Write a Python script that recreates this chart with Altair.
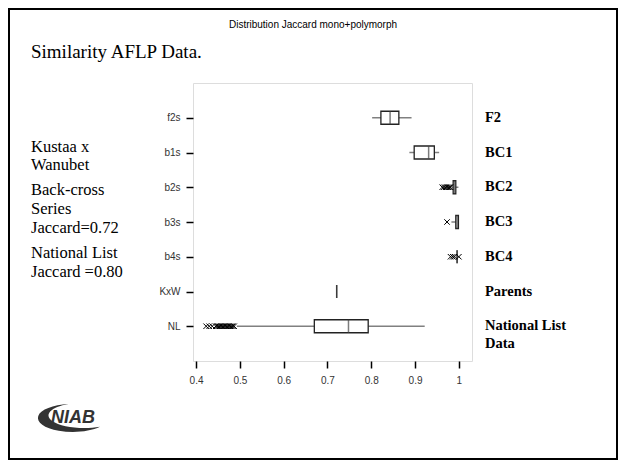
import altair as alt
import pandas as pd

# ---- data ----
categories = ["f2s", "b1s", "b2s", "b3s", "b4s", "KxW", "NL"]
lower_whisker = [0.802, 0.887, 0.984, 0.983, 0.996, 0.721, 0.493]
q1 = [0.822, 0.898, 0.987, 0.993, 0.996, 0.721, 0.670]
median = [0.843, 0.931, 0.990, 0.996, 0.996, 0.721, 0.748]
q3 = [0.863, 0.944, 0.993, 0.999, 0.996, 0.721, 0.793]
upper_whisker = [0.892, 0.955, 0.999, 0.999, 0.996, 0.721, 0.922]

outliers_b2s = [0.962, 0.966, 0.970, 0.973, 0.976, 0.979, 0.981]
outliers_b3s = [0.973]
outliers_b4s = [0.981, 0.986, 0.990, 1.000]
outliers_nl = [0.423, 0.430, 0.437, 0.445, 0.448, 0.451, 0.454, 0.457, 0.460,
               0.463, 0.466, 0.469, 0.472, 0.475, 0.478, 0.481, 0.484, 0.487]

x_ticks = [0.4, 0.5, 0.6, 0.7, 0.8, 0.9, 1.0]

title_text = "Distribution Jaccard mono+polymorph"
heading_text = "Similarity AFLP Data."
left_notes = ["Kustaa x", "Wanubet", "Back-cross", "Series", "Jaccard=0.72",
              "National List", "Jaccard =0.80"]
group_labels = ["F2", "BC1", "BC2", "BC3", "BC4", "Parents", "National List"]
group_label_extra = "Data"
logo_text = "NIAB"

# ---- tables ----
boxes = pd.DataFrame({"cat": categories, "lo": lower_whisker, "q1": q1,
                      "med": median, "q3": q3, "hi": upper_whisker,
                      "grp": group_labels})
out_rows = ([("b2s", v) for v in outliers_b2s] + [("b3s", v) for v in outliers_b3s]
            + [("b4s", v) for v in outliers_b4s] + [("NL", v) for v in outliers_nl])
outs = pd.DataFrame(out_rows, columns=["cat", "val"])

xscale = alt.Scale(domain=[0.393, 1.03], nice=False, zero=False)
yscale = alt.Scale(type="point", domain=categories, padding=1)
Y = alt.Y("cat:N", scale=yscale, sort=categories)

base = alt.Chart(boxes)

whisk = base.mark_rule(color="#808080", strokeWidth=1.5).encode(
    x=alt.X("lo:Q", scale=xscale,
            axis=alt.Axis(values=x_ticks, format=".1~f", title=None, grid=False,
                          domain=False, tickColor="black", tickSize=7, tickWidth=1.5,
                          labelFont="Liberation Sans", labelFontSize=10,
                          labelColor="#333", labelPadding=7)),
    x2="hi:Q",
    y=alt.Y("cat:N", scale=yscale, sort=categories,
            axis=alt.Axis(title=None, grid=False, domain=False, tickColor="black",
                          tickSize=7, tickWidth=1.5, labelFont="Liberation Sans",
                          labelFontSize=10, labelColor="#333", labelPadding=6)),
)

box = base.mark_bar(size=13, orient="horizontal", fill="white", stroke="#222",
                    strokeWidth=1.3).encode(
    x=alt.X("q1:Q", scale=xscale), x2="q3:Q", y=Y)

med = base.mark_tick(size=13, thickness=1.5, color="#444", orient="vertical").encode(
    x=alt.X("med:Q", scale=xscale), y=Y)

xshape = "M-1,-1L1,1M-1,1L1,-1"
pts = alt.Chart(outs).mark_point(shape=xshape, filled=False, size=30, color="black",
                                 strokeWidth=1, opacity=1).encode(
    x=alt.X("val:Q", scale=xscale), y=Y)

# group names on the right, aligned with the categories
grp = base.mark_text(align="left", baseline="middle", fontSize=14.5,
                     font="Liberation Serif", fontWeight="bold", color="black").encode(
    x=alt.value(292), y=Y, text="grp:N")
grp_extra = alt.Chart(alt.Data(values=[{"cat": categories[-1], "t": group_label_extra}])
                      ).mark_text(align="left", baseline="middle", fontSize=14.5, dy=18,
                                  font="Liberation Serif", fontWeight="bold",
                                  color="black").encode(
    x=alt.value(292), y=Y, text="t:N")


def label(txt, x, y, size, font, weight="normal", align="left", style="normal",
          color="black"):
    return alt.Chart(alt.Data(values=[{"t": txt}])).mark_text(
        align=align, baseline="middle", fontSize=size, font=font,
        fontWeight=weight, fontStyle=style, color=color).encode(
        x=alt.value(x), y=alt.value(y), text="t:N")


layers = [whisk, box, med, pts, grp, grp_extra]

# slide border
layers.append(alt.Chart(alt.Data(values=[{}])).mark_rect(
    fillOpacity=0, stroke="black", strokeWidth=2).encode(
    x=alt.value(-184), x2=alt.value(424), y=alt.value(-74), y2=alt.value(376)))

layers.append(label(title_text, 120, -58, 10, "Liberation Sans", align="center"))
layers.append(label(heading_text, -162, -31, 19, "Liberation Serif"))

left_y = [64, 82, 107, 126, 145, 170, 189]
for t, yy in zip(left_notes, left_y):
    layers.append(label(t, -162, yy, 16.5, "Liberation Serif"))

# logo
swoosh = "M0.1,-0.4 A1,0.4 0 1 0 1,0.25 A0.93,0.33 0 1 1 0.1,-0.4 Z"
layers.append(alt.Chart(alt.Data(values=[{}])).mark_point(
    shape=swoosh, filled=True, size=4900, color="#333", opacity=1).encode(
    x=alt.value(-128), y=alt.value(335)))
layers.append(label(logo_text, -120, 335, 18, "Liberation Sans", weight="bold",
                    align="center", style="italic", color="#333"))

chart = alt.layer(*layers).properties(
    width=279, height=278, autosize="none",
    padding={"left": 185, "top": 75, "right": 146, "bottom": 100},
).configure_view(stroke="black", strokeWidth=1.5).configure(background="white")

chart.save("out.html", embed_options={"renderer": "svg", "actions": False})
